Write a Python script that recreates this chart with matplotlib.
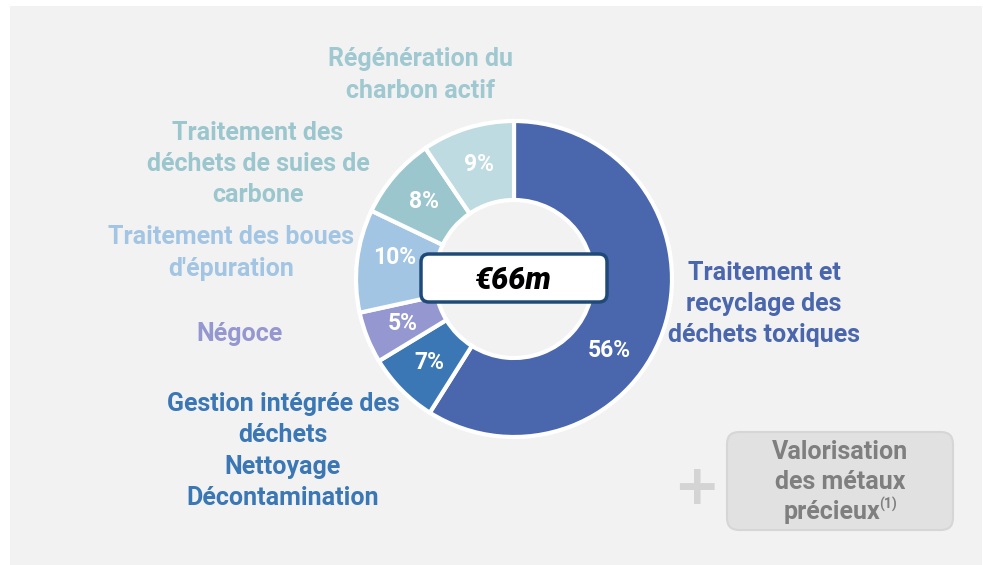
import matplotlib
matplotlib.use("Agg")
import matplotlib.pyplot as plt
from matplotlib.patches import FancyBboxPatch, Rectangle
import numpy as np

# ---- data ----
categories = [
    "Traitement et\nrecyclage des\ndéchets toxiques",
    "Gestion intégrée des\ndéchets\nNettoyage\nDécontamination",
    "Négoce",
    "Traitement des boues\nd'épuration",
    "Traitement des\ndéchets de suies de\ncarbone",
    "Régénération du\ncharbon actif",
]
values = [56, 7, 5, 10, 8, 9]
pct_labels = ["56%", "7%", "5%", "10%", "8%", "9%"]
colors = ["#4a66ad", "#3a77b4", "#9597d0", "#a3c5e4", "#9bc6cd", "#bddbe0"]
text_colors = ["#4a66ad", "#3a77b4", "#9597d0", "#a3c5e4", "#9bc6cd", "#9fc8d0"]
total_label = "€66m"
side_lines = ["Valorisation", "des métaux", "précieux"]
side_note = "(1)"

W, H = 983, 565
FONT = "Roboto"

fig = plt.figure(figsize=(W / 100, H / 100), dpi=100)
fig.patch.set_facecolor("white")

def pixel_axes():
    a = fig.add_axes([0, 0, 1, 1])
    a.set_xlim(0, W)
    a.set_ylim(H, 0)
    a.axis("off")
    a.set_facecolor("none")
    return a

# background
bg = pixel_axes()
bg.add_patch(Rectangle((10, 6), 972, 570, facecolor="#f2f2f2", edgecolor="none", zorder=0))

# pie axes
cx, cy, R = 514, 279, 158
pie_ax = fig.add_axes([(cx - R) / W, (H - cy - R) / H, 2 * R / W, 2 * R / H])
pie_ax.set_facecolor("none")
wedges, _ = pie_ax.pie(
    values, colors=colors, startangle=90, counterclock=False,
    wedgeprops=dict(width=0.5, edgecolor="white", linewidth=3),
)
pie_ax.set_xlim(-1, 1)
pie_ax.set_ylim(-1, 1)
pie_ax.set_aspect("equal")
pie_ax.axis("off")

# label angle / radius overrides where the label is not at the wedge middle
angle_override = {0: -37.0, 3: 170.0}
radius_override = {3: 0.77}
for i, (w, lab) in enumerate(zip(wedges, pct_labels)):
    deg = angle_override.get(i, (w.theta1 + w.theta2) / 2)
    r = radius_override.get(i, 0.755)
    ang = np.deg2rad(deg)
    pie_ax.text(r * np.cos(ang), r * np.sin(ang), lab, ha="center", va="center",
                color="white", fontsize=16.5, fontweight="bold", family=FONT)

# top overlay
ov = pixel_axes()

label_pos = [(764, 304), (283, 451), (240, 334), (231, 253), (258, 164), (421, 75)]
for (x, y), txt, c in zip(label_pos, categories, text_colors):
    ov.text(x, y, txt, ha="center", va="center", color=c, fontsize=18,
            fontweight="bold", family=FONT, linespacing=1.38)

# center box
ov.add_patch(FancyBboxPatch((421, 254), 186, 48, boxstyle="round,pad=0,rounding_size=8",
                            facecolor="white", edgecolor="#1f4a78", linewidth=2.5, zorder=5))
ov.text(512, 280, total_label, ha="center", va="center", fontsize=22, fontweight="heavy",
        fontstyle="italic", family=FONT, color="black", zorder=6)

# side box
ov.add_patch(FancyBboxPatch((727, 432), 226, 98, boxstyle="round,pad=0,rounding_size=12",
                            facecolor="#e1e1e1", edgecolor="#d6d6d6", linewidth=1.5, zorder=5))
ov.text(840, 452, side_lines[0], ha="center", va="center", fontsize=18, fontweight="bold",
        family=FONT, color="#7f7f7f", zorder=6)
ov.text(840, 482, side_lines[1], ha="center", va="center", fontsize=18, fontweight="bold",
        family=FONT, color="#7f7f7f", zorder=6)
ov.text(880, 512, side_lines[2], ha="right", va="center", fontsize=18, fontweight="bold",
        family=FONT, color="#7f7f7f", zorder=6)
ov.text(879, 504, side_note, ha="left", va="center", fontsize=10, fontweight="bold",
        family=FONT, color="#7f7f7f", zorder=6)
ov.text(696, 489, "+", ha="center", va="center", fontsize=40, fontweight="bold",
        family="DejaVu Sans", color="#d4d4d4", zorder=6)

fig.savefig("out.png", dpi=100, facecolor=fig.get_facecolor())
